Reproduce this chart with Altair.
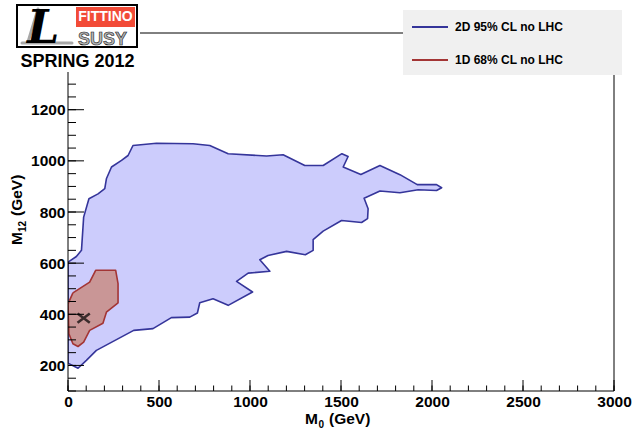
import altair as alt
import pandas as pd

# ---------------- data ----------------
blue_m0 = [0, 46, 74, 86, 115, 165, 202, 211, 239, 294, 330, 357, 486, 687, 779, 880,
           1091, 1182, 1301, 1402, 1505, 1539, 1512, 1609, 1714, 1824, 1919, 2025, 2053,
           2025, 1924, 1824, 1714, 1627, 1649, 1646, 1613, 1503, 1402, 1347, 1347, 1304,
           1201, 1099, 1054, 1109, 990, 926, 1014, 880, 797, 724, 711, 669, 568, 467, 361,
           156, 101, 55, 0]
blue_m12 = [604, 626, 650, 780, 852, 871, 891, 930, 976, 1002, 1021, 1060, 1069, 1067, 1060, 1028,
            1019, 1024, 982, 982, 1028, 1017, 976, 947, 982, 946, 907, 907, 895,
            884, 887, 875, 882, 854, 813, 774, 759, 767, 725, 692, 650, 633,
            646, 630, 613, 568, 561, 529, 487, 435, 461, 445, 405, 389, 387, 344, 337,
            259, 220, 189, 209]

red_m0 = [27, 119, 152, 262, 275, 275, 211, 192, 119, 86, 55, 27, 5, 0]
red_m12 = [484, 526, 572, 572, 520, 445, 408, 365, 337, 291, 274, 285, 324, 441]

best_m0 = [86]
best_m12 = [385]

x_major = [0, 500, 1000, 1500, 2000, 2500, 3000]
x_minor = list(range(0, 3001, 100))
y_major = [200, 400, 600, 800, 1000, 1200, 1400]
y_minor = list(range(100, 1501, 50))
y_labels = [200, 400, 600, 800, 1000, 1200]

legend_labels = ["2D 95% CL no LHC", "1D 68% CL no LHC"]

# ---------------- layout ----------------
W, H = 546, 358
FONT = "Liberation Sans"
BLUE_FILL, BLUE_LINE = "#ccccfc", "#35359a"
RED_FILL, RED_LINE = "#c99696", "#a33535"

xs = alt.Scale(domain=[0, 3000], nice=False, zero=False)
ys = alt.Scale(domain=[100, 1500], nice=False, zero=False)

x_axis = alt.Axis(values=x_major, format="d", ticks=False, domain=False, grid=False, title=None,
                  labelFont=FONT, labelFontWeight="bold", labelFontSize=15.5,
                  labelColor="black", labelPadding=3, labelFlush=False, labelOverlap=False)
y_axis = alt.Axis(values=y_labels, format="d", ticks=False, domain=False, grid=False, title=None,
                  labelFont=FONT, labelFontWeight="bold", labelFontSize=15.5,
                  labelColor="black", labelPadding=3, labelOverlap=False)


def X(field):
    return alt.X(field, scale=xs, axis=x_axis, title=None)


def Y(field):
    return alt.Y(field, scale=ys, axis=y_axis, title=None)


def polygon(xv, yv, fill, stroke):
    df = pd.DataFrame({"m0": xv + [xv[0]], "m12": yv + [yv[0]],
                       "i": list(range(len(xv) + 1))})
    return alt.Chart(df).mark_line(fill=fill, stroke=stroke, strokeWidth=1.6,
                                   strokeJoin="round", clip=True).encode(
        x=X("m0:Q"), y=Y("m12:Q"), order="i:Q",
    )


blue = polygon(blue_m0, blue_m12, BLUE_FILL, BLUE_LINE)
red = polygon(red_m0, red_m12, RED_FILL, RED_LINE)

best = alt.Chart(pd.DataFrame({"m0": best_m0, "m12": best_m12})).mark_point(
    shape="M-1,-0.75L1,0.75M-1,0.75L1,-0.75", size=150, stroke="black",
    strokeWidth=2.6, filled=False).encode(x=X("m0:Q"), y=Y("m12:Q"))


def xticks(vals, length):
    return alt.Chart(pd.DataFrame({"m0": vals})).mark_rule(color="black", strokeWidth=1).encode(
        x=X("m0:Q"), y=alt.value(H), y2=alt.value(H - length))


def yticks(vals, length):
    return alt.Chart(pd.DataFrame({"m12": vals})).mark_rule(color="black", strokeWidth=1).encode(
        y=Y("m12:Q"), x=alt.value(0), x2=alt.value(length))


one = pd.DataFrame({"a": [0]})


def hline(x1, x2, y, color="black", width=1):
    return alt.Chart(one).mark_rule(color=color, strokeWidth=width).encode(
        x=alt.value(x1), x2=alt.value(x2), y=alt.value(y))


def vline(x, y1, y2, color="black", width=1):
    return alt.Chart(one).mark_rule(color=color, strokeWidth=width).encode(
        x=alt.value(x), y=alt.value(y1), y2=alt.value(y2))


def seg(x1, y1, x2, y2, color, width):
    return alt.Chart(one).mark_rule(color=color, strokeWidth=width, strokeCap="round").encode(
        x=alt.value(x1), y=alt.value(y1), x2=alt.value(x2), y2=alt.value(y2))


def rect(x1, x2, y1, y2, fill, stroke=None, sw=0):
    kw = dict(fill=fill)
    if stroke:
        kw.update(stroke=stroke, strokeWidth=sw)
    return alt.Chart(one).mark_rect(**kw).encode(
        x=alt.value(x1), x2=alt.value(x2), y=alt.value(y1), y2=alt.value(y2))


def label(txt, x, y, size, align="left", baseline="alphabetic", color="black",
          weight="bold", font=FONT, angle=0, style=None, **extra):
    kw = dict(text=txt, align=align, baseline=baseline, fontSize=size, fill=color,
              fontWeight=weight, font=font, **extra)
    if angle:
        kw["angle"] = angle
    if style:
        kw["fontStyle"] = style
    return alt.Chart(one).mark_text(**kw).encode(x=alt.value(x), y=alt.value(y))


frame = [
    hline(0, W, H), hline(0, W, 0), vline(0, 0, H), vline(W, 0, H),
]

# axis titles with subscripts
xtitle = [
    label("M", 237, 391, 15.5),
    label("0", 250.5, 395, 10),
    label("(GeV)", 261, 391, 15.5),
]
ytitle = [
    label("M", -46, 212, 15.5, angle=270),
    label("12", -42, 199, 10, angle=270),
    label("(GeV)", -46, 183, 15.5, angle=270),
]

# logo (top-left)
logo = [
    rect(-68, 72, -33, 39, "white"),
    rect(-51, 69, -28, 14, "white", "black", 2),
    seg(-30, -24, -40, 9, "#a8a8a8", 3),
    seg(-46, 10, 4, 10, "#a8a8a8", 3),
    label("L", -41, 10, 46, color="black", font="DejaVu Serif", style="italic"),
    rect(8, 67, -26, -6, "#f24b37"),
    label("FITTINO", 37.5, -16, 14, align="center", baseline="middle", color="white"),
    label("SUSY", 34.5, 12, 18, align="center", color="#b5b5b5", stroke="#222222",
          strokeWidth=0.6),
    label("SPRING 2012", 9.5, 34, 18, align="center"),
]

# legend (top-right)
legend = [
    rect(335, 554, -23, 42, "#f0f0f0"),
    hline(344, 380, -6, BLUE_LINE, 2),
    hline(344, 380, 27, RED_LINE, 2),
    label(legend_labels[0], 387, -6, 12, baseline="middle"),
    label(legend_labels[1], 387, 27, 12, baseline="middle"),
]

layers = ([blue, red, best,
           xticks(x_minor, 5.5), xticks(x_major, 11),
           yticks(y_minor, 8), yticks(y_major, 16)]
          + frame + xtitle + ytitle + logo + legend)

chart = alt.layer(*layers).properties(
    width=W, height=H,
    autosize=alt.AutoSizeParams(type="none"),
    padding={"left": 68, "top": 33, "right": 21, "bottom": 41},
    background="white",
).configure_view(stroke=None)

chart.save("out.html", embed_options={"renderer": "svg", "actions": False})
